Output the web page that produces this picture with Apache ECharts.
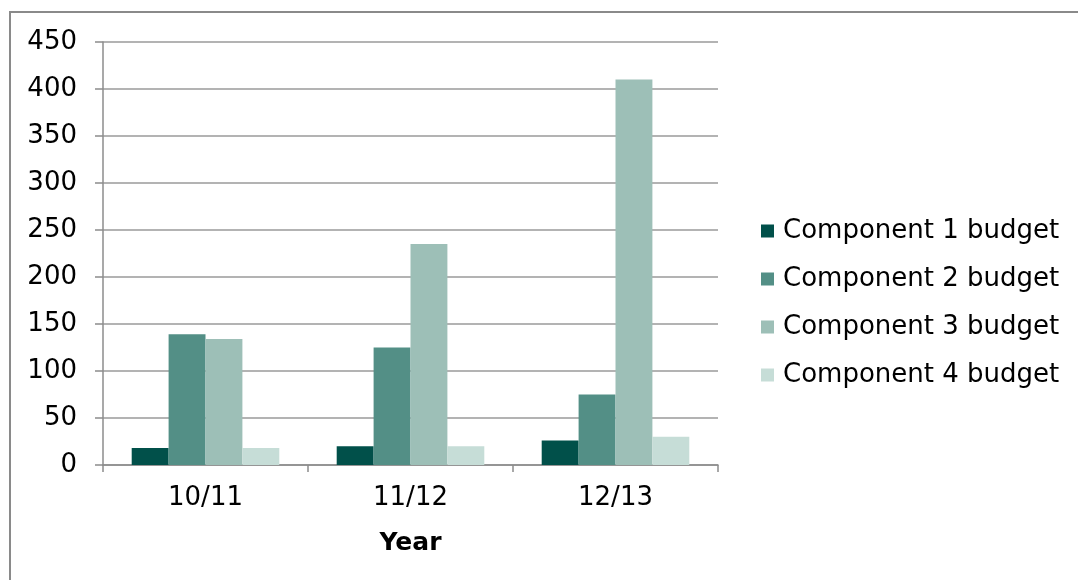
<!DOCTYPE html>
<html>
<head>
<meta charset="utf-8">
<script src="https://cdn.jsdelivr.net/npm/echarts@6/dist/echarts.min.js"></script>
<style>
  html, body { margin: 0; padding: 0; background: #fff; }
  #chart { width: 1078px; height: 580px; }
</style>
</head>
<body>
<div id="chart"></div>
<script>
// Budget per component by financial year
const years = ['10/11', '11/12', '12/13'];
const seriesNames = ['Component 1 budget', 'Component 2 budget', 'Component 3 budget', 'Component 4 budget'];
const component1 = [18, 20, 26];
const component2 = [139, 125, 75];
const component3 = [134, 235, 410];
const component4 = [18, 20, 30];
const colors = ['#01504a', '#538f86', '#9dbfb7', '#c6ddd7'];

const FONT = '"DejaVu Sans", Verdana, sans-serif';
const chart = echarts.init(document.getElementById('chart'), null, { renderer: 'canvas' });

const values = [component1, component2, component3, component4];

chart.setOption({
  animation: false,
  backgroundColor: '#ffffff',
  graphic: [{
    type: 'rect',
    shape: { x: 10, y: 12, width: 1100, height: 600 },
    style: { fill: 'none', stroke: '#8a8a8a', lineWidth: 2 },
    silent: true,
    z: 100
  }],
  grid: { left: 103, right: 360, top: 42, bottom: 115, containLabel: false },
  legend: {
    orient: 'vertical',
    left: 756,
    top: 213,
    itemWidth: 13,
    itemHeight: 13,
    itemGap: 22,
    icon: 'rect',
    textStyle: { fontFamily: FONT, fontSize: 26, color: '#000', lineHeight: 26, padding: [0, 0, 0, 4] },
    data: seriesNames
  },
  xAxis: {
    type: 'category',
    data: years,
    name: 'Year',
    nameLocation: 'middle',
    nameGap: 66,
    nameTextStyle: { fontFamily: FONT, fontSize: 25, fontWeight: 'bold', color: '#000' },
    axisLine: { lineStyle: { color: '#8c8c8c', width: 1.5 } },
    axisTick: { show: true, inside: false, length: 7, alignWithLabel: false, lineStyle: { color: '#8c8c8c', width: 1.5 } },
    axisLabel: { fontFamily: FONT, fontSize: 26, color: '#000', margin: 20 },
    splitLine: { show: false }
  },
  yAxis: {
    type: 'value',
    min: 0,
    max: 450,
    interval: 50,
    axisLine: { show: true, lineStyle: { color: '#8c8c8c', width: 1.5 } },
    axisTick: { show: true, inside: false, length: 8, lineStyle: { color: '#8c8c8c', width: 1.5 } },
    axisLabel: { fontFamily: FONT, fontSize: 26, color: '#000', margin: 26 },
    splitLine: { show: true, lineStyle: { color: '#9a9a9a', width: 1.5 } }
  },
  series: seriesNames.map((name, i) => ({
    name,
    type: 'bar',
    data: values[i],
    barGap: '0%',
    barCategoryGap: '28%',
    itemStyle: { color: colors[i] }
  }))
});
</script>
</body>
</html>
